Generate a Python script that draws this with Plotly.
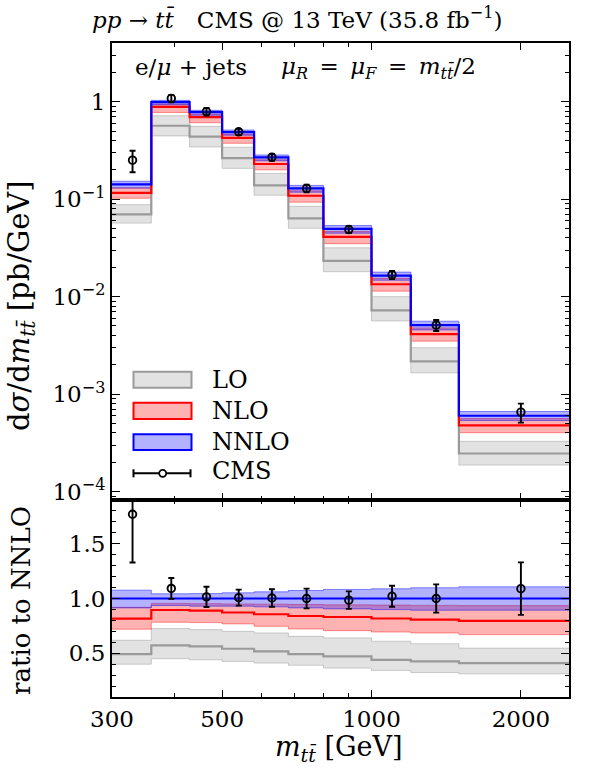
import math
import plotly.graph_objects as go
from plotly.subplots import make_subplots

# ---------------- data ----------------
edges = [300, 360, 430, 500, 580, 680, 800, 1000, 1200, 1500, 2500]

nnlo    = [0.142, 0.99, 0.78, 0.487, 0.268, 0.129, 0.0495, 0.0164, 0.0051, 0.00060]
nnlo_lo = [0.1298, 0.9266, 0.7254, 0.4529, 0.2476, 0.1179, 0.0448, 0.01474, 0.004554, 0.000536]
nnlo_hi = [0.1528, 1.0326, 0.8151, 0.5123, 0.2843, 0.1384, 0.0536, 0.01786, 0.0056, 0.000664]

nlo    = [0.1160, 0.8861, 0.6942, 0.4247, 0.2294, 0.1084, 0.04113, 0.0134, 0.004116, 0.000477]
nlo_lo = [0.1022, 0.7752, 0.6084, 0.3740, 0.1999, 0.0931, 0.03495, 0.01138, 0.003494, 0.000402]
nlo_hi = [0.1306, 0.9455, 0.7433, 0.4627, 0.2541, 0.1219, 0.04663, 0.01542, 0.004779, 0.000561]

lo    = [0.0699, 0.5663, 0.4391, 0.2635, 0.1386, 0.06347, 0.02331, 0.007216, 0.002168, 0.000246]
lo_lo = [0.0568, 0.4455, 0.3432, 0.2070, 0.1099, 0.05031, 0.01802, 0.005625, 0.001652, 0.000187]
lo_hi = [0.0878, 0.7178, 0.5585, 0.3409, 0.1836, 0.08437, 0.03168, 0.0100, 0.002994, 0.000328]

cms     = [0.2513, 1.081, 0.7917, 0.4909, 0.2693, 0.129, 0.04876, 0.01673, 0.0051, 0.000654]
cms_err = [0.0625, 0.094, 0.0718, 0.0356, 0.0214, 0.0116, 0.00396, 0.00157, 0.00066, 0.000144]

x_ticks = [300, 500, 1000, 2000]
x_minor = [400, 600, 700, 800, 900]
y_ticks = [1e-4, 1e-3, 1e-2, 1e-1, 1]
y_ticktext = ["10<sup>−4</sup>", "10<sup>−3</sup>", "10<sup>−2</sup>", "10<sup>−1</sup>", "1"]
r_ticks = [0.5, 1.0, 1.5]
r_ticktext = ["0.5", "1.0", "1.5"]

# ---------------- helpers ----------------
FONT = "DejaVu Serif"
centers = [(a + b) / 2 for a, b in zip(edges[:-1], edges[1:])]


def step(v):
    return list(v) + [v[-1]]


def ratio(a):
    return [x / n for x, n in zip(a, nnlo)]


fig = make_subplots(rows=2, cols=1, shared_xaxes=True, vertical_spacing=0,
                    row_heights=[457 / 654, 197 / 654])

styles = [
    ("LO", lo, lo_lo, lo_hi, "rgba(150,150,150,0.28)", "rgba(150,150,150,0.45)", "#9a9a9a"),
    ("NLO", nlo, nlo_lo, nlo_hi, "rgba(255,0,0,0.3)", "rgba(255,0,0,0.4)", "#ff0000"),
    ("NNLO", nnlo, nnlo_lo, nnlo_hi, "rgba(0,0,255,0.3)", "rgba(0,0,255,0.45)", "#0000ff"),
]

for row in (1, 2):
    f = (lambda v: v) if row == 1 else ratio
    for name, c, l, h, fc, ec, lc in styles:
        fig.add_trace(go.Scatter(x=edges, y=step(f(l)), mode="lines",
                                 line=dict(shape="hv", color=ec, width=1),
                                 showlegend=False, hoverinfo="skip"), row=row, col=1)
        fig.add_trace(go.Scatter(x=edges, y=step(f(h)), mode="lines", fill="tonexty",
                                 fillcolor=fc, line=dict(shape="hv", color=ec, width=1),
                                 showlegend=False, hoverinfo="skip"), row=row, col=1)
    for name, c, l, h, fc, ec, lc in styles:
        fig.add_trace(go.Scatter(x=edges, y=step(f(c)), mode="lines",
                                 line=dict(shape="hv", color=lc, width=2.2),
                                 showlegend=False, name=name), row=row, col=1)
    fig.add_trace(go.Scatter(
        x=centers, y=f(cms), mode="markers",
        marker=dict(symbol="circle-open", size=7.5, color="black", line=dict(width=1.9)),
        error_y=dict(type="data", array=f(cms_err), color="black", thickness=1.9, width=3),
        showlegend=False, name="CMS"), row=row, col=1)

TICK = 23
axis_common = dict(showline=True, linecolor="black", linewidth=2, mirror="allticks",
                   ticks="inside", tickcolor="black", showgrid=False, zeroline=False,
                   tickfont=dict(family=FONT, size=TICK, color="black"))

xr = [math.log10(edges[0]), math.log10(edges[-1])]
fig.update_xaxes(type="log", range=xr, tickvals=x_ticks, ticktext=[str(t) for t in x_ticks],
                 ticklen=7, tickwidth=1.3,
                 minor=dict(tickvals=x_minor, ticks="inside", ticklen=4, tickcolor="black"),
                 **axis_common)
fig.update_xaxes(showticklabels=False, row=1, col=1)

minor_y = [m * 10 ** k for k in range(-5, 1) for m in range(2, 10)]
fig.update_yaxes(type="log", range=[math.log10(8.2e-5), math.log10(4)],
                 tickvals=y_ticks, ticktext=y_ticktext, ticklen=8, tickwidth=1.3,
                 minor=dict(tickvals=minor_y, ticks="inside", ticklen=4, tickcolor="black"),
                 row=1, col=1, **axis_common)
fig.update_yaxes(range=[0.1, 1.9], tickvals=r_ticks, ticktext=r_ticktext, ticklen=8,
                 tickwidth=1.3,
                 minor=dict(dtick=0.1, tick0=0, ticks="inside", ticklen=4, tickcolor="black"),
                 row=2, col=1, **axis_common)

# ---------------- text ----------------
W, H, L, R, T, B = 598, 769, 112, 29, 43, 72
pw, ph = W - L - R, H - T - B


def px(x):
    return (x - L) / pw


def py(y):
    return (H - B - y) / ph


tbar = "t\u0304"
sp = "\u2002"
ann = [
    dict(x=px(297), y=py(18), text=f"<i>pp</i> → <i>t{tbar}</i>{sp}{sp}CMS @ 13 TeV (35.8 fb<sup>−1</sup>)",
         xanchor="center", size=23),
    dict(x=px(133), y=py(67), text="e/<i>μ</i> + jets", xanchor="left", size=23),
    dict(x=px(478), y=py(68),
         text=f"<i>μ<sub>R</sub></i>{sp}={sp}<i>μ<sub>F</sub></i>{sp}={sp}<i>m<sub>t{tbar}</sub></i>/2",
         xanchor="right", size=23),
    dict(x=px(339), y=py(748), text=f"<i>m<sub>t{tbar}</sub></i> [GeV]", xanchor="center", size=27),
    dict(x=px(210), y=py(380), text="LO", xanchor="left", size=24),
    dict(x=px(210), y=py(411), text="NLO", xanchor="left", size=24),
    dict(x=px(210), y=py(442), text="NNLO", xanchor="left", size=24),
    dict(x=px(210), y=py(471), text="CMS", xanchor="left", size=24),
]
annotations = []
for a in ann:
    annotations.append(dict(x=a["x"], y=a["y"], xref="paper", yref="paper", text=a["text"],
                            showarrow=False, xanchor=a["xanchor"], yanchor="middle",
                            font=dict(family=FONT, size=a["size"], color="black")))
annotations.append(dict(x=px(21), y=py(306), xref="paper", yref="paper", textangle=-90,
                        text=f"d<i>σ</i>/d<i>m<sub>t{tbar}</sub></i> [pb/GeV]", showarrow=False,
                        xanchor="center", yanchor="middle",
                        font=dict(family=FONT, size=29, color="black")))
annotations.append(dict(x=px(21), y=py(601), xref="paper", yref="paper", textangle=-90,
                        text="ratio to NNLO", showarrow=False, xanchor="center", yanchor="middle",
                        font=dict(family=FONT, size=26, color="black")))

# legend swatches
shapes = []
for (y0, y1), (name, c, l, h, fc, ec, lc) in zip([(371.7, 387.7), (402.7, 419), (434.3, 450)], styles):
    shapes.append(dict(type="rect", xref="paper", yref="paper", x0=px(133.5), x1=px(191.5),
                       y0=py(y1), y1=py(y0), fillcolor=fc, line=dict(color=lc, width=2)))
ly = 473.3
shapes.append(dict(type="line", xref="paper", yref="paper", x0=px(133.5), x1=px(190.5),
                   y0=py(ly), y1=py(ly), line=dict(color="black", width=2)))
for xc in (133.5, 190.5):
    shapes.append(dict(type="line", xref="paper", yref="paper", x0=px(xc), x1=px(xc),
                       y0=py(ly - 4), y1=py(ly + 4), line=dict(color="black", width=2)))
shapes.append(dict(type="circle", xref="paper", yref="paper", x0=px(159.2), x1=px(166.2),
                   y0=py(ly + 3.5), y1=py(ly - 3.5), fillcolor="white",
                   line=dict(color="black", width=1.8)))

fig.update_layout(width=W, height=H, margin=dict(l=L, r=R, t=T, b=B),
                  paper_bgcolor="white", plot_bgcolor="white", showlegend=False,
                  annotations=annotations, shapes=shapes,
                  font=dict(family=FONT, color="black"))

fig.write_html("out.html")
